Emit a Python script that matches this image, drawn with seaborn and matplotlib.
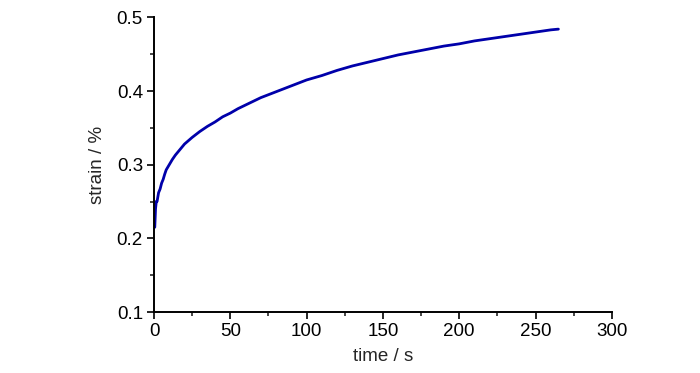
import numpy as np
import pandas as pd
import matplotlib
matplotlib.use("Agg")
import matplotlib.pyplot as plt
from matplotlib.ticker import MultipleLocator
import seaborn as sns

# creep curve
time_s = [0.5, 1, 1.5, 2, 3, 4, 5, 6, 7, 8, 10, 12, 14, 16, 18, 20, 25, 30, 35,
          40, 45, 50, 55, 60, 65, 70, 75, 80, 85, 90, 95, 100, 110, 120, 130,
          140, 150, 160, 170, 180, 190, 200, 210, 220, 230, 240, 250, 260, 265]
strain = [0.215, 0.24, 0.25, 0.25, 0.262, 0.267, 0.275, 0.28, 0.287, 0.293,
          0.30, 0.307, 0.313, 0.318, 0.323, 0.328, 0.337, 0.345, 0.352, 0.358,
          0.365, 0.37, 0.376, 0.381, 0.386, 0.391, 0.395, 0.399, 0.403, 0.407,
          0.411, 0.415, 0.421, 0.428, 0.434, 0.439, 0.444, 0.449, 0.453, 0.457,
          0.461, 0.464, 0.468, 0.471, 0.474, 0.477, 0.48, 0.483, 0.484]

df = pd.DataFrame({'time': time_s, 'strain': strain})

sns.set_style('ticks')
plt.rcParams['font.family'] = ['Liberation Sans', 'DejaVu Sans']

fig = plt.figure(figsize=(7, 3.73), dpi=100)
ax = fig.add_axes([0.22, 0.1635, 0.654, 0.79])
sns.lineplot(x='time', y='strain', data=df, ax=ax, color='#0000aa',
             linewidth=2)

ax.set_xlim(0, 300)
ax.set_ylim(0.1, 0.5)
ax.xaxis.set_major_locator(MultipleLocator(50))
ax.xaxis.set_minor_locator(MultipleLocator(25))
ax.yaxis.set_major_locator(MultipleLocator(0.1))
ax.yaxis.set_minor_locator(MultipleLocator(0.05))
ax.yaxis.set_major_formatter(matplotlib.ticker.FormatStrFormatter('%.1f'))
ax.tick_params(which='major', direction='out', length=5, width=1.2,
               colors='black', labelsize=13.5, pad=3)
ax.tick_params(which='minor', direction='out', length=3, width=1.2)
for s in ['left', 'bottom']:
    ax.spines[s].set_linewidth(1.4)
    ax.spines[s].set_color('black')
sns.despine(ax=ax)
ax.set_xlabel('time / s', fontsize=13.5, labelpad=6)
ax.set_ylabel('strain / %', fontsize=13.5, labelpad=8)

fig.savefig('out.png', dpi=100)
